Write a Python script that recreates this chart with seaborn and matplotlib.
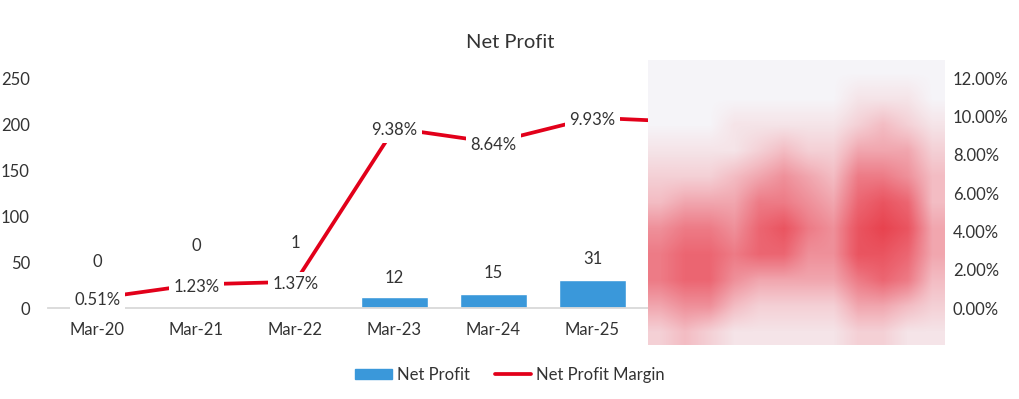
import numpy as np
import pandas as pd
import matplotlib
matplotlib.use("Agg")
import matplotlib.pyplot as plt
from matplotlib.colors import LinearSegmentedColormap
import seaborn as sns

# Data (last three years are hidden under the mosaic in the source)
years = ["Mar-20", "Mar-21", "Mar-22", "Mar-23", "Mar-24", "Mar-25", "Mar-26", "Mar-27", "Mar-28"]
net_profit = [0, 0, 1, 12, 15, 31, np.nan, np.nan, np.nan]
profit_labels = ["0", "0", "1", "12", "15", "31"]
margin = [0.51, 1.23, 1.37, 9.38, 8.64, 9.93, 9.7, np.nan, np.nan]
margin_labels = ["0.51%", "1.23%", "1.37%", "9.38%", "8.64%", "9.93%"]
# label lift above the bar top, in points (Mar-20..22 were moved up by hand)
label_lift = [33, 45, 46, 14, 15, 15]

# redaction mosaic over the right part of the chart (0 = blank, 9 = strong red)
mosaic = [
    "000000000000",
    "000000001110",
    "000111112321",
    "111123224442",
    "222345436653",
    "344466547873",
    "566578658984",
    "677677558874",
    "677544446763",
    "455322224432",
    "232111112211",
]

BLUE = "#3A98DA"
RED = "#E2001A"
TXT = "#333333"

sns.set_style("white")
plt.rcParams["font.family"] = ["Lato", "DejaVu Sans"]

df = pd.DataFrame({"year": years, "profit": net_profit, "margin": margin})
shown = df.dropna(subset=["profit"])

fig = plt.figure(figsize=(10.2, 3.99), dpi=100)
ax = fig.add_axes([0.047, 0.228, 0.8735, 0.5764])

sns.barplot(data=shown, x="year", y="profit", order=years, color=BLUE,
            width=0.68, saturation=1, ax=ax)
ax.set_xlim(-0.5, len(years) - 0.5)
ax.set_ylim(0, 250)
ax.set_yticks(range(0, 251, 50))
ax.set_xlabel("")
ax.set_ylabel("")
ax.tick_params(axis="y", length=0, pad=13, labelsize=12, labelcolor=TXT)
ax.tick_params(axis="x", length=0, pad=10, labelsize=12, labelcolor=TXT)
for s in ["top", "left", "right"]:
    ax.spines[s].set_visible(False)
ax.spines["bottom"].set_color("#D9D9D9")
ax.spines["bottom"].set_linewidth(1.3)

for i, (lab, lift) in enumerate(zip(profit_labels, label_lift)):
    ax.annotate(lab, (i, net_profit[i]), xytext=(0, lift), textcoords="offset points",
                ha="center", va="center", fontsize=12, color=TXT)

ax2 = ax.twinx()
sns.lineplot(x=np.arange(len(years)), y=df["margin"], color=RED, linewidth=2.7,
             ax=ax2, legend=False)
ax2.set_ylim(0, 12)
ax2.set_yticks(range(0, 13, 2))
ax2.set_yticklabels([f"{v:.2f}%" for v in range(0, 13, 2)])
ax2.set_ylabel("")
ax2.tick_params(axis="y", length=0, pad=10, labelsize=12, labelcolor=TXT)
for s in ["top", "left", "right", "bottom"]:
    ax2.spines[s].set_visible(False)

for i, lab in enumerate(margin_labels):
    ax2.annotate(lab, (i, margin[i]), xytext=(0, -1.5), textcoords="offset points",
                 ha="center", va="center", fontsize=12, color=TXT,
                 bbox=dict(boxstyle="square,pad=0.25", fc="white", ec="none"))

fig.text(0.5, 1 - 43 / 399, "Net Profit", ha="center", va="center", fontsize=14.5, color=TXT)

handles = [plt.Rectangle((0, 0), 1, 1, color=BLUE),
           plt.Line2D([0], [0], color=RED, linewidth=2.7)]
fig.legend(handles, ["Net Profit", "Net Profit Margin"], loc="center",
           bbox_to_anchor=(0.5, 1 - 375 / 399), ncol=2, frameon=False,
           fontsize=12, handlelength=2.2, handleheight=0.6, handletextpad=0.3,
           columnspacing=1.5, labelcolor=TXT)

# mosaic patch
grid = np.array([[int(c) for c in row] for row in mosaic], dtype=float)
cmap = LinearSegmentedColormap.from_list(
    "mos", [(0, "#F5F4F8"), (1 / 9, "#F5E4E8"), (3 / 9, "#F3BCC3"),
            (5 / 9, "#EF909A"), (7 / 9, "#EC6672"), (1, "#E8434F")])
axm = fig.add_axes([648 / 1020, 1 - 345 / 399, 297 / 1020, 285 / 399])
axm.imshow(grid, cmap=cmap, vmin=0, vmax=9, aspect="auto", interpolation="bilinear")
axm.axis("off")

fig.savefig("out.png", dpi=100)
